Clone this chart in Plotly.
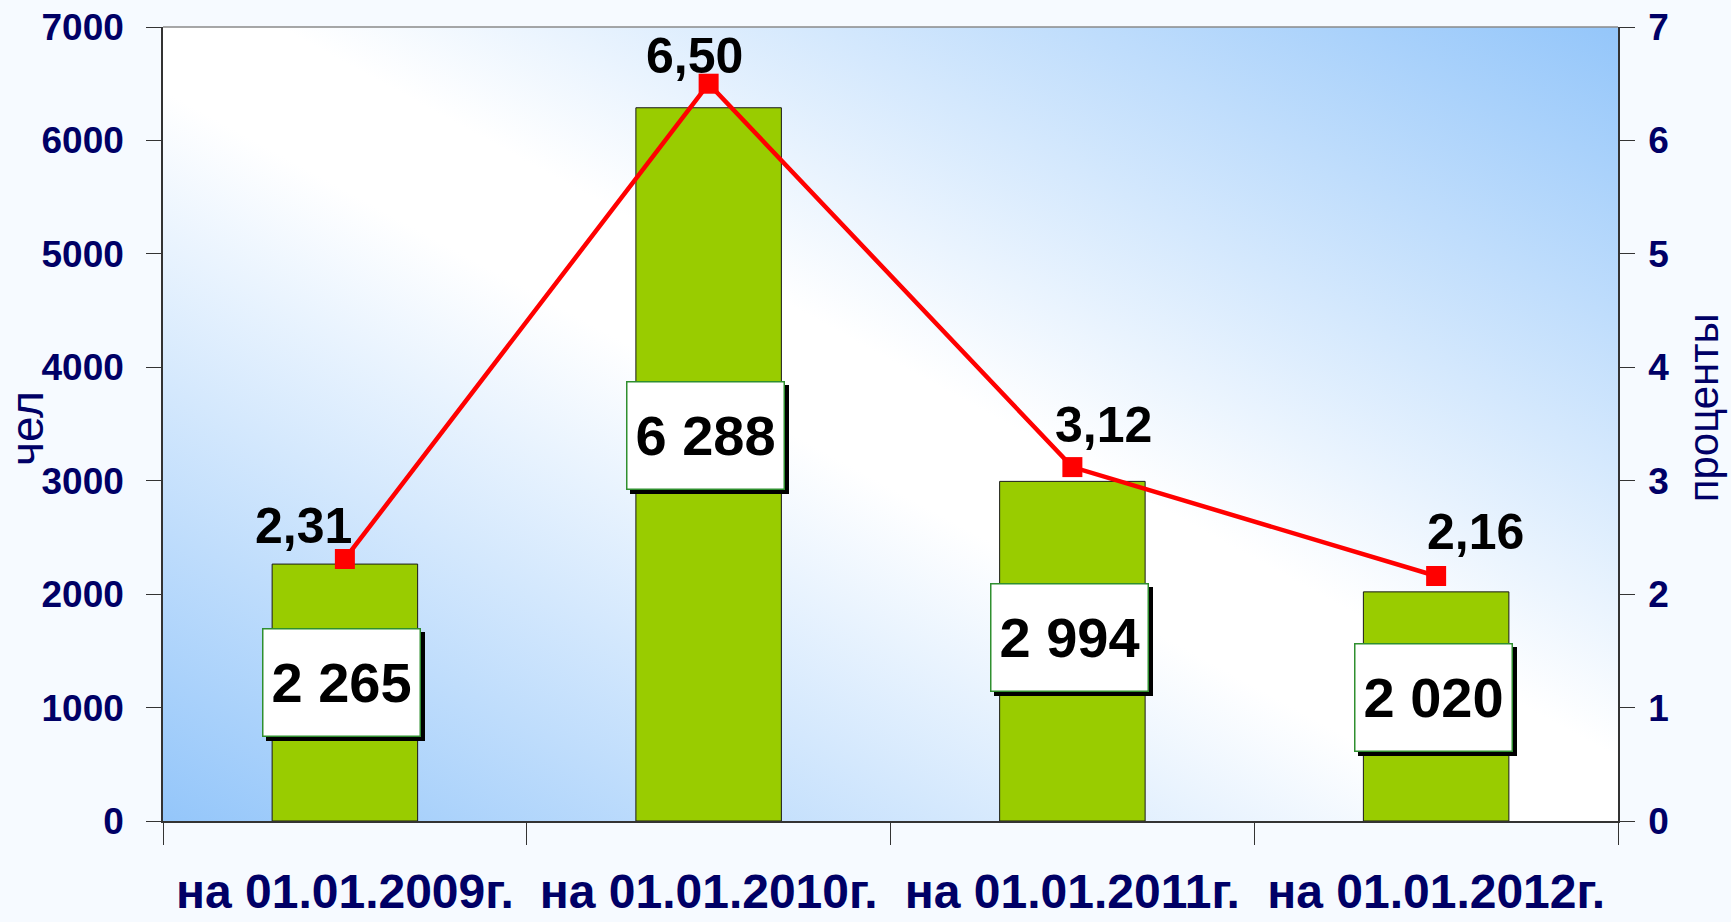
import base64
import plotly.graph_objects as go

# ---- data ----
categories = ["на 01.01.2009г.", "на 01.01.2010г.", "на 01.01.2011г.", "на 01.01.2012г."]
people = [2265, 6288, 2994, 2020]
people_labels = ["2 265", "6 288", "2 994", "2 020"]
percent = [2.31, 6.50, 3.12, 2.16]
percent_labels = ["2,31", "6,50", "3,12", "2,16"]

# ---- style ----
NAVY = "#000066"
label_pos_factor = 0.54          # where the value box sits on the bar (fraction of bar height)
pct_dx = [-41, -14, 31, 39]      # pixel offsets of percentage labels
pct_dy = [33, 28, 42, 44]

svg = """<svg xmlns='http://www.w3.org/2000/svg' width='400' height='200' preserveAspectRatio='none' viewBox='0 0 400 200'>
<defs><linearGradient id='g' x1='0' y1='1' x2='1' y2='0'>
<stop offset='0' stop-color='#94c6fa'/>
<stop offset='0.46' stop-color='#ffffff'/>
<stop offset='0.54' stop-color='#ffffff'/>
<stop offset='1' stop-color='#94c6fa'/>
</linearGradient></defs>
<rect x='0' y='0' width='400' height='200' fill='url(#g)'/></svg>"""
svg_uri = "data:image/svg+xml;base64," + base64.b64encode(svg.encode()).decode()

fig = go.Figure()
fig.add_trace(go.Bar(
    x=categories, y=people, width=0.4,
    marker=dict(color="#99cc00", line=dict(color="#1a1a1a", width=1)),
    hoverinfo="skip", yaxis="y",
))
fig.add_trace(go.Scatter(
    x=categories, y=percent, yaxis="y2", mode="lines+markers",
    line=dict(color="#ff0000", width=4.5),
    marker=dict(symbol="square", size=20, color="#ff0000"),
    hoverinfo="skip",
))

annotations = []
for c, v, t in zip(categories, people, people_labels):
    # shadow
    annotations.append(dict(
        x=c, y=v * label_pos_factor, xref="x", yref="y", text=" ",
        showarrow=False, width=154, height=104, bgcolor="#000000",
        borderwidth=1.5, bordercolor="#000000", borderpad=1,
        xshift=1, yshift=-4, font=dict(size=10),
    ))
    annotations.append(dict(
        x=c, y=v * label_pos_factor, xref="x", yref="y", text=t,
        showarrow=False, width=154, height=104, bgcolor="#ffffff",
        borderwidth=1.5, bordercolor="#2f8f2f", borderpad=1, xshift=-3,
        font=dict(family="Liberation Sans, Arial", size=56, color="#000000", weight="bold"),
    ))
for c, v, t, dx, dy in zip(categories, percent, percent_labels, pct_dx, pct_dy):
    annotations.append(dict(
        x=c, y=v, xref="x", yref="y2", text=t, showarrow=False,
        xshift=dx, yshift=dy,
        font=dict(family="Liberation Sans, Arial", size=50, color="#000000", weight="bold"),
    ))
annotations.append(dict(
    x=-0.0935, y=0.495, xref="paper", yref="paper", text="чел", textangle=-90,
    xanchor="center", yanchor="middle",
    showarrow=False, font=dict(family="Liberation Sans, Arial", size=46, color=NAVY),
))
annotations.append(dict(
    x=1.0584, y=0.521, xref="paper", yref="paper", text="проценты", textangle=-90,
    xanchor="center", yanchor="middle",
    showarrow=False, font=dict(family="Liberation Sans, Arial", size=42, color=NAVY),
))

tickfont = dict(family="Liberation Sans, Arial", size=37, color=NAVY, weight="bold")

fig.update_layout(
    width=1731, height=922,
    margin=dict(l=163, r=113, t=27, b=101, autoexpand=False),
    paper_bgcolor="#f6faff",
    plot_bgcolor="rgba(0,0,0,0)",
    showlegend=False,
    images=[dict(source=svg_uri, xref="paper", yref="paper", x=0, y=1,
                 sizex=1, sizey=1, xanchor="left", yanchor="top",
                 sizing="stretch", layer="below")],
    xaxis=dict(
        type="category", range=[-0.5, 3.5], tickson="boundaries",
        ticks="outside", ticklen=22, tickcolor="#333333", tickwidth=1,
        showline=True, linecolor="#333333", linewidth=1.5, showgrid=False,
        tickangle=0, automargin=False,
        tickfont=dict(family="Liberation Sans, Arial", size=48,
                      color=NAVY, weight="bold"),
        ticklabelstandoff=28,
    ),
    yaxis=dict(
        range=[0, 7000], dtick=1000, ticks="outside", ticklen=15, tickcolor="#333333",
        showline=True, linecolor="#333333", linewidth=1.5, showgrid=False, zeroline=False,
        tickfont=tickfont, ticklabelstandoff=15, automargin=False,
    ),
    yaxis2=dict(
        range=[0, 7], dtick=1, overlaying="y", side="right", anchor="x",
        ticks="outside", ticklen=15, tickcolor="#333333",
        showline=True, linecolor="#333333", linewidth=1.5, showgrid=False, zeroline=False,
        tickfont=tickfont, ticklabelstandoff=6, automargin=False,
    ),
    yaxis3=dict(
        range=[0, 7000], dtick=1000, overlaying="y", side="left", anchor="x",
        ticks="inside", ticklen=14, tickcolor="#333333", showticklabels=False,
        showline=False, showgrid=False, zeroline=False, automargin=False,
    ),
    yaxis4=dict(
        range=[0, 7], dtick=1, overlaying="y", side="right", anchor="x",
        ticks="inside", ticklen=14, tickcolor="#333333", showticklabels=False,
        showline=False, showgrid=False, zeroline=False, automargin=False,
    ),
    shapes=[dict(type="line", xref="paper", yref="paper", x0=0, x1=1, y0=1, y1=1,
                 line=dict(color="#8a8a8a", width=1.5))],
    annotations=annotations,
)

fig.write_html("out.html")
